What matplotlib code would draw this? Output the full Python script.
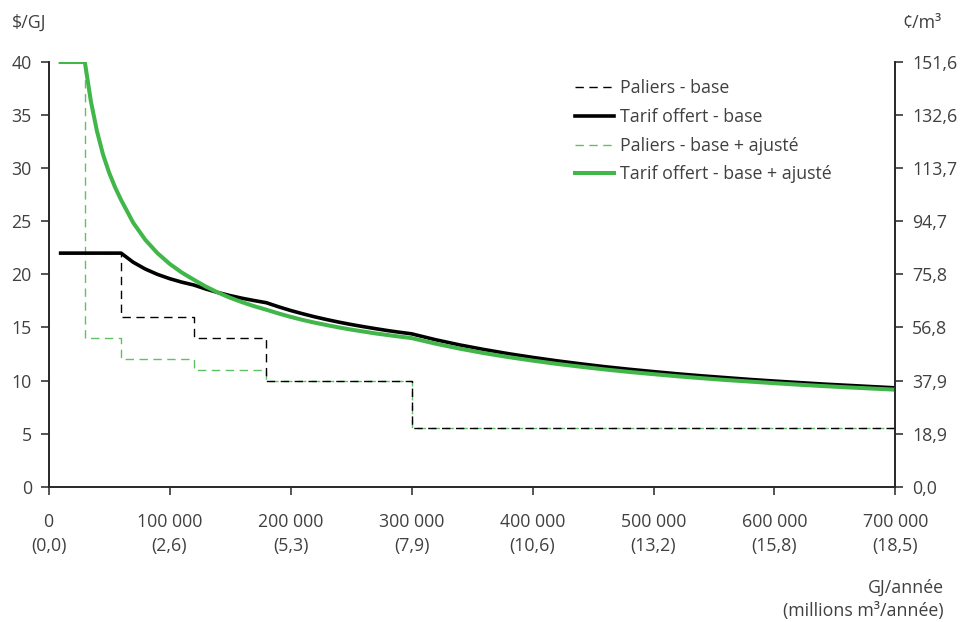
import matplotlib
matplotlib.use("Agg")
import matplotlib.pyplot as plt

plt.rcParams['font.family'] = ['Open Sans', 'DejaVu Sans']

# tariff blocks ($/GJ), step starts in GJ/year
paliers_x = [10000, 60000, 120000, 180000, 300000, 700000]
paliers_base = [22, 16, 14, 10, 5.5, 5.5]
paliers_aj_x = [10000, 30000, 60000, 120000, 180000, 300000, 700000]
paliers_aj = [40, 14, 12, 11, 10, 5.5, 5.5]

# offered tariff curves ($/GJ)
tarif_x = [10000, 20000, 30000, 40000, 50000, 60000, 70000, 80000, 90000, 100000,
           110000, 120000, 130000, 140000, 150000, 160000, 170000, 180000, 190000,
           200000, 210000, 220000, 230000, 240000, 250000, 260000, 270000, 280000,
           290000, 300000, 320000, 340000, 360000, 380000, 400000, 420000, 440000,
           460000, 480000, 500000, 520000, 540000, 560000, 580000, 600000, 620000,
           640000, 660000, 680000, 700000]
tarif_base = [22, 22, 22, 22, 22, 22, 21.14, 20.5, 20.0, 19.6,
              19.27, 19.0, 18.62, 18.29, 18.0, 17.75, 17.53, 17.33, 16.95,
              16.6, 16.29, 16.0, 15.74, 15.5, 15.28, 15.08, 14.89, 14.71,
              14.55, 14.4, 13.84, 13.35, 12.92, 12.53, 12.18, 11.86, 11.57,
              11.30, 11.06, 10.84, 10.63, 10.44, 10.27, 10.10, 9.95, 9.81,
              9.67, 9.55, 9.43, 9.31]

tarif_aj_x = [10000, 20000, 30000, 35000, 40000, 45000, 50000, 55000, 60000, 70000,
              80000, 90000, 100000, 110000, 120000, 130000, 140000, 150000, 160000,
              170000, 180000, 190000, 200000, 210000, 220000, 230000, 240000, 250000,
              260000, 270000, 280000, 290000, 300000, 320000, 340000, 360000, 380000,
              400000, 420000, 440000, 460000, 480000, 500000, 520000, 540000, 560000,
              580000, 600000, 620000, 640000, 660000, 680000, 700000]
tarif_aj = [40, 40, 40, 36.3, 33.5, 31.3, 29.6, 28.2, 27.0, 24.86,
            23.25, 22.0, 21.0, 20.18, 19.5, 18.85, 18.29, 17.8, 17.38,
            17.0, 16.67, 16.32, 16.0, 15.71, 15.45, 15.22, 15.0, 14.8,
            14.62, 14.44, 14.29, 14.14, 14.0, 13.47, 13.0, 12.58, 12.21,
            11.88, 11.57, 11.30, 11.04, 10.81, 10.6, 10.40, 10.22, 10.05,
            9.90, 9.75, 9.61, 9.48, 9.36, 9.25, 9.14]

x_ticks = [0, 100000, 200000, 300000, 400000, 500000, 600000, 700000]
x_gj = ['0', '100 000', '200 000', '300 000', '400 000', '500 000', '600 000', '700 000']
x_m3 = ['(0,0)', '(2,6)', '(5,3)', '(7,9)', '(10,6)', '(13,2)', '(15,8)', '(18,5)']
y_ticks = [0, 5, 10, 15, 20, 25, 30, 35, 40]
y_right = ['0,0', '18,9', '37,9', '56,8', '75,8', '94,7', '113,7', '132,6', '151,6']

green = '#41B649'
green_light = '#5DC263'
txt = '#404040'
fs = 12.8

fig = plt.figure(figsize=(9.63, 6.22), dpi=100)
ax = fig.add_axes([0.0504, 0.2175, 0.8795, 0.6828])

ax.plot(paliers_aj_x, paliers_aj, drawstyle='steps-post', color=green_light,
        lw=1.0, dashes=(6, 4), label='Paliers - base + ajusté', zorder=2)
ax.plot(paliers_x, paliers_base, drawstyle='steps-post', color='black',
        lw=1.0, dashes=(6, 4), label='Paliers - base', zorder=3)
ax.plot(tarif_x, tarif_base, color='black', lw=2.6,
        label='Tarif offert - base', zorder=4)
ax.plot(tarif_aj_x, tarif_aj, color=green, lw=2.9,
        label='Tarif offert - base + ajusté', zorder=5)

ax.set_xlim(0, 700000)
ax.set_ylim(0, 40)
ax.set_xticks(x_ticks)
ax.set_xticklabels([a + '\n' + b for a, b in zip(x_gj, x_m3)],
                   linespacing=1.45)
ax.set_yticks(y_ticks)

ax2 = ax.twinx()
ax2.set_ylim(0, 40)
ax2.set_yticks(y_ticks)
ax2.set_yticklabels(y_right)

for a in (ax, ax2):
    a.spines['top'].set_visible(False)
    for s in ('left', 'right', 'bottom'):
        a.spines[s].set_color('#262626')
        a.spines[s].set_linewidth(1.2)
    a.tick_params(direction='out', length=6, width=1.1, color='#262626',
                  labelsize=fs, labelcolor=txt)
ax.tick_params(axis='x', pad=13)
ax.tick_params(axis='y', pad=6)
ax2.tick_params(axis='y', pad=6)

fig.text(0.012, 0.963, '$/GJ', fontsize=fs, color=txt, ha='left', va='center')
fig.text(0.937, 0.963, '¢/m³', fontsize=fs, color=txt, ha='left', va='center')
fig.text(0.98, 0.036, 'GJ/année\n(millions m³/année)', fontsize=fs, color=txt,
         ha='right', va='center', linespacing=1.4)

h, l = ax.get_legend_handles_labels()
order = [1, 2, 0, 3]
leg = ax.legend([h[i] for i in order], [l[i] for i in order],
                loc='upper left', bbox_to_anchor=(0.58, 0.898),
                bbox_transform=fig.transFigure, frameon=False, fontsize=fs,
                handlelength=2.2, handletextpad=0.35, labelspacing=0.6)
for t in leg.get_texts():
    t.set_color(txt)

fig.savefig('out.png', dpi=100)
